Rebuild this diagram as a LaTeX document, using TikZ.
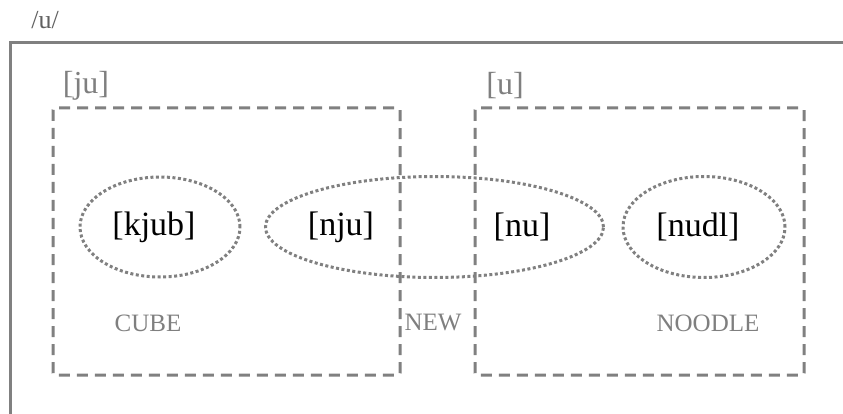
\documentclass[tikz,border=0pt]{standalone}
\usepackage{fontspec}
\setmainfont{Liberation Serif}
\usetikzlibrary{shapes.geometric}
\definecolor{lg}{HTML}{808080}
\definecolor{tg}{HTML}{7F7F7F}
\definecolor{dg}{HTML}{606060}
\tikzset{
  outerframe/.style={draw=lg, line width=3pt},
  group/.style={draw=lg, line width=3pt, dash pattern=on 11pt off 7pt, rounded corners=2pt},
  blob/.style={draw=lg, ellipse, line width=3pt, dash pattern=on 3pt off 2.5pt, inner sep=0pt},
  phon/.style={font=\fontsize{34}{38}\selectfont, text=black, inner sep=0pt},
  grp/.style={font=\fontsize{32}{36}\selectfont, text=tg, inner sep=0pt},
  word/.style={font=\fontsize{25}{28}\selectfont, text=tg, inner sep=0pt},
  top/.style={font=\fontsize{26}{29}\selectfont, text=dg, inner sep=0pt}
}
\begin{document}
\begin{tikzpicture}[x=1pt,y=-1pt]
\useasboundingbox (0,0) rectangle (843,414);
\clip (0,0) rectangle (843,414);
\draw[outerframe] (10,43) rectangle (900,460);
\node[top] (phon) at (45,20) {/u/};
\node[grp] (ju) at (86,86) {[ju]};
\node[grp] (u) at (505,86) {[u]};
\draw[group] (53,108) rectangle (400,375);
\draw[group] (475,108) rectangle (804,375);
\node[blob, minimum width=160pt, minimum height=100pt] (e1) at (160,227) {};
\node[blob, minimum width=338pt, minimum height=101pt] (e2) at (434.5,227) {};
\node[blob, minimum width=162pt, minimum height=101pt] (e3) at (704,227) {};
\node[phon] (kjub) at (154,227) {[kjub]};
\node[phon] (nju) at (341,227) {[nju]};
\node[phon] (nu) at (522,227) {[nu]};
\node[phon] (nudl) at (698,227) {[nudl]};
\node[word] (cube) at (148,323) {CUBE};
\node[word] (new) at (433,323) {NEW};
\node[word] (noodle) at (708,323) {NOODLE};
\end{tikzpicture}
\end{document}
